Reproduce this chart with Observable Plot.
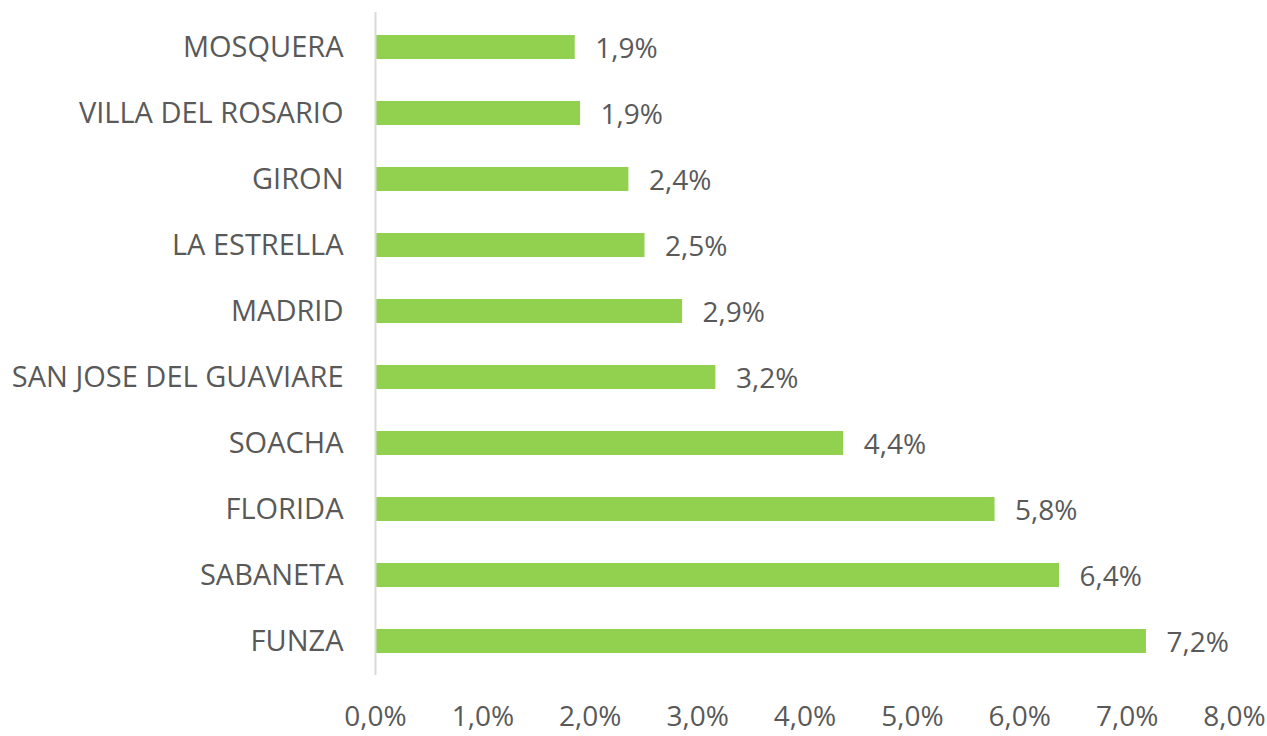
<!DOCTYPE html>
<html>
<head>
<meta charset="utf-8">
<script src="https://cdn.jsdelivr.net/npm/d3@7"></script>
<script src="https://cdn.jsdelivr.net/npm/@observablehq/plot@0.6"></script>
<style>
  html, body { margin: 0; padding: 0; background: #fff; }
  #chart svg { display: block; }
</style>
</head>
<body>
<div id="chart"></div>
<script>
const municipios = ["MOSQUERA", "VILLA DEL ROSARIO", "GIRON", "LA ESTRELLA", "MADRID",
  "SAN JOSE DEL GUAVIARE", "SOACHA", "FLORIDA", "SABANETA", "FUNZA"];
const valores = [1.86, 1.91, 2.36, 2.51, 2.86, 3.17, 4.36, 5.77, 6.37, 7.18];
const xTicks = [0, 1, 2, 3, 4, 5, 6, 7, 8];

const data = municipios.map((m, i) => ({ m, v: valores[i] }));
const fmt = d => d.toFixed(1).replace(".", ",") + "%";
const font = "'Open Sans', sans-serif";

const chart = Plot.plot({
  width: 1267,
  height: 736,
  marginLeft: 375,
  marginRight: 33,
  marginTop: 12,
  marginBottom: 61,
  style: { fontFamily: font, fontSize: "28px", color: "#595959", background: "#fff" },
  x: { domain: [0, 8], ticks: xTicks, tickFormat: fmt, label: null },
  y: { domain: municipios, paddingInner: 0.64, paddingOuter: 0.32, label: null },
  marks: [
    Plot.axisX({ ticks: xTicks, tickFormat: fmt, tickSize: 0, tickPadding: 31, fontSize: 28, fill: "#595959", label: null }),
    Plot.axisY({ tickSize: 0, tickPadding: 32, fontSize: 29, fill: "#595959", label: null }),
    Plot.barX(data, { x: "v", y: "m", fill: "#92d050", insetLeft: 1 }),
    Plot.ruleX([0], { y1: null, y2: null, stroke: "#d9d9d9", strokeWidth: 2 }),
    Plot.text(data, { x: "v", y: "m", text: d => fmt(d.v), textAnchor: "start", dx: 20, dy: 2, fontSize: 28, fill: "#595959" })
  ]
});
document.getElementById("chart").appendChild(chart);
</script>
</body>
</html>
